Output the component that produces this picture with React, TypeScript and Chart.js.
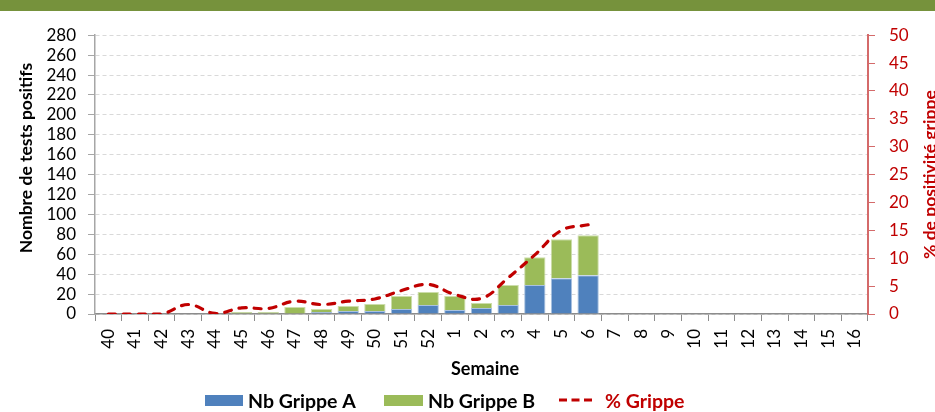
import React, { useEffect, useRef } from 'react';
import { Chart, registerables } from 'chart.js';

Chart.register(...registerables);

const FONT = 'Lato, "Open Sans", "Noto Sans", sans-serif';

const weeks = ['40', '41', '42', '43', '44', '45', '46', '47', '48', '49', '50', '51', '52',
  '1', '2', '3', '4', '5', '6', '7', '8', '9', '10', '11', '12', '13', '14', '15', '16'];

const grippeA = [0, 0, 0, 0, 0, 0, 0, 0, 2, 3, 3, 5, 9, 4, 6, 9, 29, 36, 39,
  null, null, null, null, null, null, null, null, null, null];

const grippeB = [0, 0, 0, 0, 0, 2, 2, 7, 3, 5, 7, 13, 13, 14, 5, 20, 28, 39, 40,
  null, null, null, null, null, null, null, null, null, null];

const pctGrippe = [0, 0, 0, 1.7, 0.1, 1.1, 1.0, 2.3, 1.7, 2.3, 2.7, 4.2, 5.3, 3.5, 2.8, 6.5, 10.6, 15.0, 16.0,
  null, null, null, null, null, null, null, null, null, null];

const leftTicksMax = 280;
const leftStep = 20;
const rightTicksMax = 50;
const rightStep = 5;

const BLUE = '#4F81BD';
const GREEN = '#9BBB59';
const RED = '#C00000';

const overlay = {
  id: 'overlay',
  afterDraw(chart: any) {
    const ctx = chart.ctx as CanvasRenderingContext2D;
    const area = chart.chartArea;
    ctx.save();
    // left axis title
    ctx.font = `bold 17.5px ${FONT}`;
    ctx.fillStyle = '#000';
    ctx.textAlign = 'center';
    ctx.textBaseline = 'middle';
    ctx.save();
    ctx.translate(26, 147);
    ctx.rotate(-Math.PI / 2);
    ctx.fillText('Nombre de tests positifs', 0, 0);
    ctx.restore();
    // right axis title (reads bottom to top, clipped at edge)
    ctx.save();
    ctx.fillStyle = RED;
    ctx.textBaseline = 'alphabetic';
    ctx.translate(936, (area.top + area.bottom) / 2);
    ctx.rotate(-Math.PI / 2);
    ctx.fillText('% de positivité grippe', 0, 0);
    ctx.restore();
    // x axis title
    ctx.font = `bold 18px ${FONT}`;
    ctx.fillStyle = '#000';
    ctx.textBaseline = 'middle';
    ctx.fillText('Semaine', 485, 358);
    // legend
    ctx.font = `bold 19.5px ${FONT}`;
    ctx.textBaseline = 'alphabetic';
    const base = 396.5;
    const ly = 389;
    ctx.textAlign = 'left';
    ctx.fillStyle = BLUE;
    ctx.fillRect(205, 384, 38, 11);
    ctx.fillStyle = '#000';
    ctx.fillText('Nb Grippe A', 248, base);
    ctx.fillStyle = GREEN;
    ctx.fillRect(384, 384, 39, 11);
    ctx.fillStyle = '#000';
    ctx.fillText('Nb Grippe B', 428, base);
    ctx.strokeStyle = RED;
    ctx.lineWidth = 3;
    ctx.setLineDash([8, 4.5]);
    ctx.beginPath();
    ctx.moveTo(559, ly);
    ctx.lineTo(593, ly);
    ctx.stroke();
    ctx.setLineDash([]);
    ctx.fillStyle = RED;
    ctx.fillText('% Grippe', 605, base);
    ctx.restore();
  },
};

export default function App() {
  const ref = useRef<HTMLCanvasElement>(null);
  useEffect(() => {
    if (!ref.current) return;
    const tickFont = { family: FONT, size: 17 };
    const chart = new Chart(ref.current, {
      data: {
        labels: weeks,
        datasets: [
          {
            type: 'line',
            label: '% Grippe',
            data: pctGrippe,
            yAxisID: 'y1',
            borderColor: RED,
            borderWidth: 3.2,
            borderDash: [7, 8],
            borderCapStyle: 'round',
            tension: 0.4,
            pointRadius: 0,
            fill: false,
            order: 0,
          } as any,
          {
            type: 'bar',
            label: 'Nb Grippe A',
            data: grippeA,
            yAxisID: 'y',
            backgroundColor: BLUE,
            borderColor: '#A9C2E0',
            borderWidth: 1,
            categoryPercentage: 1,
            barPercentage: 0.8,
            stack: 's',
            order: 1,
          },
          {
            type: 'bar',
            label: 'Nb Grippe B',
            data: grippeB,
            yAxisID: 'y',
            backgroundColor: GREEN,
            borderColor: '#CCDDAA',
            borderWidth: 1,
            categoryPercentage: 1,
            barPercentage: 0.8,
            stack: 's',
            order: 2,
          },
        ],
      },
      options: {
        responsive: false,
        animation: false,
        maintainAspectRatio: false,
        layout: { padding: { top: 17, left: 0, right: 0, bottom: 0 } },
        plugins: { legend: { display: false }, tooltip: { enabled: false } },
        scales: {
          x: {
            stacked: true,
            offset: true,
            grid: {
              display: true,
              drawOnChartArea: false,
              drawTicks: true,
              tickLength: 7,
              offset: true,
              color: '#8C8C8C',
            },
            border: { display: true, color: '#8C8C8C', width: 1.5 },
            ticks: {
              autoSkip: false,
              maxRotation: 90,
              minRotation: 90,
              padding: 8,
              color: '#000',
              font: tickFont,
            },
            afterFit: (s: any) => { s.height = 98; },
          },
          y: {
            stacked: true,
            position: 'left',
            min: 0,
            max: leftTicksMax,
            ticks: { stepSize: leftStep, autoSkip: false, padding: 12, color: '#000', font: tickFont },
            grid: {
              color: '#D9D9D9',
              lineWidth: 1,
              tickLength: 7,
              tickColor: '#A6A6A6',
              tickBorderDash: [],
            } as any,
            border: { display: true, color: '#A6A6A6', width: 1.5, dash: [4, 3] },
            afterFit: (s: any) => { s.width = 95; },
          },
          y1: {
            position: 'right',
            min: 0,
            max: rightTicksMax,
            ticks: { stepSize: rightStep, autoSkip: false, padding: 14, color: RED, font: tickFont },
            grid: { drawOnChartArea: false, tickLength: 7, color: '#D46A6A' },
            border: { display: true, color: '#D46A6A', width: 2 },
            afterFit: (s: any) => { s.width = 67; },
          },
        },
      } as any,
      plugins: [overlay],
    });
    return () => chart.destroy();
  }, []);
  return (
    <div style={{ position: 'absolute', left: 0, top: 0, width: 935, height: 412, background: '#fff', overflow: 'hidden' }}>
      <div style={{ height: 11, background: '#76923C' }} />
      <canvas ref={ref} width={935} height={401} style={{ display: 'block', width: 935, height: 401 }} />
    </div>
  );
}
